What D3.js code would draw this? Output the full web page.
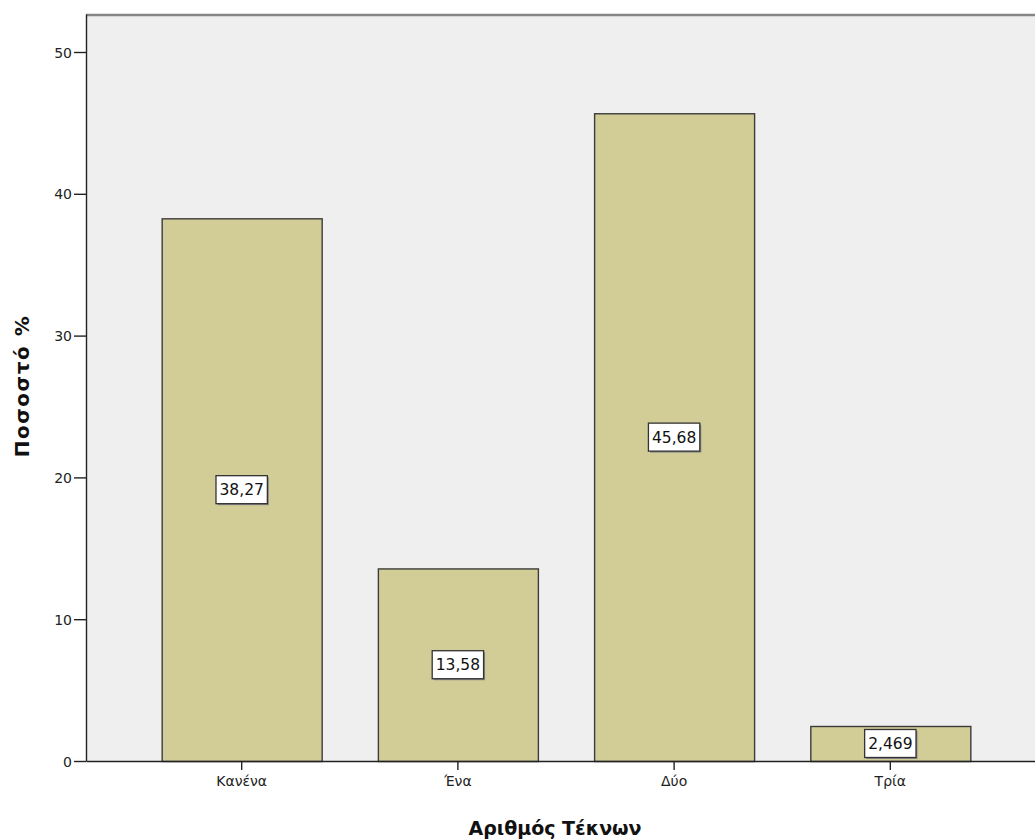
<!DOCTYPE html>
<html>
<head>
<meta charset="utf-8">
<script src="https://cdn.jsdelivr.net/npm/d3@7"></script>
<style>
  html, body { margin: 0; padding: 0; background: #ffffff; }
  svg { display: block; }
  text { font-family: "DejaVu Sans", Verdana, sans-serif; }
</style>
</head>
<body>
<svg id="chart" width="1035" height="839"></svg>
<script>
// Percentage of respondents by number of children
const categories = ["Κανένα", "Ένα", "Δύο", "Τρία"];
const percentages = [38.27, 13.58, 45.68, 2.469];
const valueLabels = ["38,27", "13,58", "45,68", "2,469"];
const yTicks = [0, 10, 20, 30, 40, 50];
const xTitle = "Αριθμός Τέκνων";
const yTitle = "Ποσοστό %";

const svg = d3.select("#chart");
const plot = { left: 86, top: 14, right: 1046, bottom: 761 };

const x = d3.scaleBand()
  .domain(categories)
  .range([plot.left, plot.right])
  .paddingInner(0.26)
  .paddingOuter(0.35);

const y = d3.scaleLinear()
  .domain([0, 52.68])
  .range([plot.bottom, plot.top]);

// plot background
svg.append("rect")
  .attr("x", plot.left).attr("y", plot.top)
  .attr("width", plot.right - plot.left).attr("height", plot.bottom - plot.top)
  .attr("fill", "#efefef");

// top frame line
svg.append("line")
  .attr("x1", plot.left).attr("x2", plot.right)
  .attr("y1", plot.top + 1).attr("y2", plot.top + 1)
  .attr("stroke", "#858585").attr("stroke-width", 2.5);

// bars
const bars = svg.append("g");
bars.selectAll("rect")
  .data(percentages)
  .join("rect")
  .attr("x", (d, i) => x(categories[i]) + 0.5)
  .attr("y", d => y(d) + 0.5)
  .attr("width", x.bandwidth())
  .attr("height", d => y(0) - y(d))
  .attr("fill", "#d2cd97")
  .attr("stroke", "#3c3c3c")
  .attr("stroke-width", 1.4);

// axes
const yAxis = d3.axisLeft(y).tickValues(yTicks).tickSize(12).tickSizeOuter(0).tickPadding(2).tickFormat(d3.format("d"));
const gy = svg.append("g").attr("transform", `translate(${plot.left},0)`).call(yAxis);
gy.select(".domain").attr("stroke", "#222").attr("stroke-width", 1.4);
gy.selectAll(".tick line").attr("stroke", "#222").attr("stroke-width", 1.4);
gy.selectAll(".tick text").attr("font-size", 14).attr("fill", "#222").attr("dy", "0.36em");

const xAxis = d3.axisBottom(x).tickSize(9).tickSizeOuter(0).tickPadding(6);
const gx = svg.append("g").attr("transform", `translate(0,${plot.bottom})`).call(xAxis);
gx.select(".domain").attr("stroke", "#222").attr("stroke-width", 1.4);
gx.selectAll(".tick line").attr("stroke", "#222").attr("stroke-width", 1.4);
gx.selectAll(".tick text").attr("font-size", 14).attr("fill", "#222");

// value labels inside bars
const labels = svg.append("g");
percentages.forEach((v, i) => {
  const cx = x(categories[i]) + x.bandwidth() / 2;
  const cy = y(v / 2);
  const g = labels.append("g").attr("transform", `translate(${cx},${cy})`);
  const t = g.append("text")
    .attr("text-anchor", "middle")
    .attr("dy", "0.36em")
    .attr("font-size", 15.5)
    .attr("fill", "#111")
    .text(valueLabels[i]);
  const bb = t.node().getBBox();
  const w = bb.width + 7, h = 28;
  g.insert("rect", "text")
    .attr("x", -w / 2 + 1.5).attr("y", -h / 2 + 1.5)
    .attr("width", w).attr("height", h)
    .attr("fill", "#8a8a8a");
  g.insert("rect", "text")
    .attr("x", -w / 2).attr("y", -h / 2)
    .attr("width", w).attr("height", h)
    .attr("fill", "#ffffff")
    .attr("stroke", "#333").attr("stroke-width", 1.3);
});

// axis titles
svg.append("text")
  .attr("x", 555).attr("y", 835)
  .attr("text-anchor", "middle")
  .attr("font-size", 19).attr("font-weight", "bold").attr("fill", "#111")
  .text(xTitle);

svg.append("text")
  .attr("transform", `translate(29,386) rotate(-90)`)
  .attr("text-anchor", "middle")
  .attr("font-size", 20).attr("font-weight", "bold").attr("fill", "#111")
  .attr("letter-spacing", 1.5)
  .text(yTitle);
</script>
</body>
</html>
